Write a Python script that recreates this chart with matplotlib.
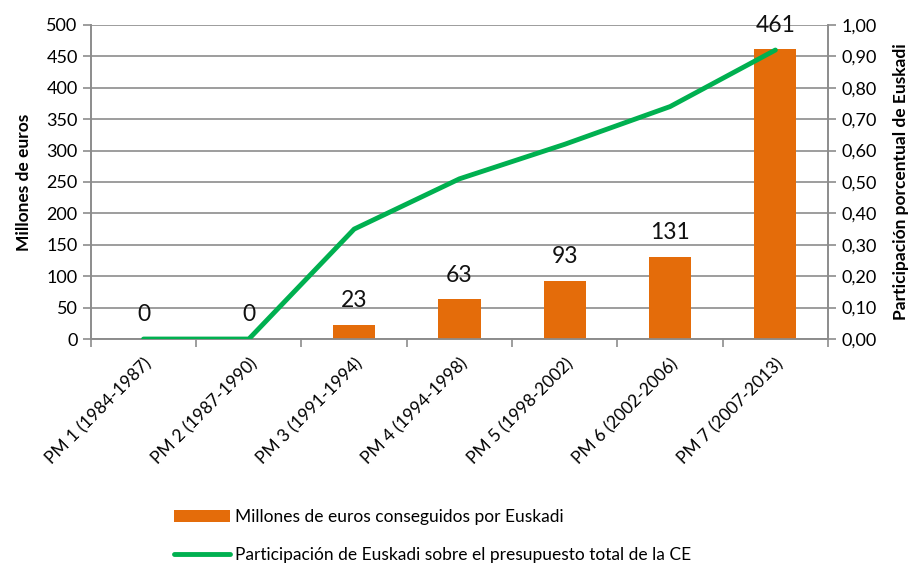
import matplotlib.pyplot as plt
import numpy as np

plt.rcParams['font.family'] = ['Lato', 'DejaVu Sans']

periodos = ["PM 1 (1984-1987)", "PM 2 (1987-1990)", "PM 3 (1991-1994)",
            "PM 4 (1994-1998)", "PM 5 (1998-2002)", "PM 6 (2002-2006)",
            "PM 7 (2007-2013)"]
millones = [0, 0, 23, 63, 93, 131, 461]
participacion = [0.0, 0.0, 0.35, 0.51, 0.62, 0.74, 0.92]

naranja = "#E46C0A"
verde = "#00B050"
gris = "#8C8C8C"

fig = plt.figure(figsize=(9.18, 5.66), dpi=100)
ax = fig.add_axes([0.099, 0.401, 0.803, 0.555])
ax2 = ax.twinx()

x = np.arange(len(periodos))
ax.bar(x, millones, width=0.4, color=naranja, zorder=3,
       label="Millones de euros conseguidos por Euskadi")
for xi, v in zip(x, millones):
    ax.annotate(str(v), (xi, v), xytext=(0, 10), textcoords="offset points",
                ha="center", va="bottom", fontsize=16.5, color="#111111")

ax2.plot(x, participacion, color=verde, lw=3.5, solid_capstyle="round",
         solid_joinstyle="round", zorder=4,
         label="Participación de Euskadi sobre el presupuesto total de la CE")

ax.set_xlim(-0.5, len(periodos) - 0.5)
ax.set_ylim(0, 500)
ax.set_yticks(np.arange(0, 501, 50))
ax2.set_ylim(0, 1.0)
ax2.set_yticks(np.arange(0, 1.01, 0.1))
ax2.set_yticklabels([f"{t:.2f}".replace(".", ",") for t in np.arange(0, 1.01, 0.1)])

ax.yaxis.grid(True, color=gris, lw=1.2, zorder=0)
ax.set_axisbelow(True)
ax.set_xticks(np.arange(-0.5, len(periodos), 1.0))
ax.set_xticklabels([])
ax.set_xticks(x, minor=True)
ax.set_xticklabels(periodos, minor=True, rotation=45, ha="right",
                   rotation_mode="anchor", fontsize=12.5)
ax.tick_params(axis="x", which="minor", length=0, pad=12)
ax.tick_params(axis="x", which="major", length=6, color=gris, width=1.2)
ax.tick_params(axis="y", length=6, color=gris, width=1.2, labelsize=13)
ax2.tick_params(axis="y", length=6, color=gris, width=1.2, labelsize=13)

for a in (ax, ax2):
    a.spines["top"].set_visible(False)
    for s in ("left", "right", "bottom"):
        a.spines[s].set_color(gris)
        a.spines[s].set_linewidth(1.2)

ax.set_ylabel("Millones de euros", fontsize=12.5, fontweight="bold", labelpad=10)
ax2.set_ylabel("Participación porcentual de Euskadi", fontsize=12.5,
               fontweight="bold", rotation=90, labelpad=12)

h1, l1 = ax.get_legend_handles_labels()
h2, l2 = ax2.get_legend_handles_labels()
fig.legend(h1 + h2, l1 + l2, loc="upper left", bbox_to_anchor=(0.182, 0.113),
           frameon=False, fontsize=12.5, handlelength=3.2, handletextpad=0.3,
           labelspacing=1.25, borderaxespad=0)

fig.savefig("out.png", dpi=100)
